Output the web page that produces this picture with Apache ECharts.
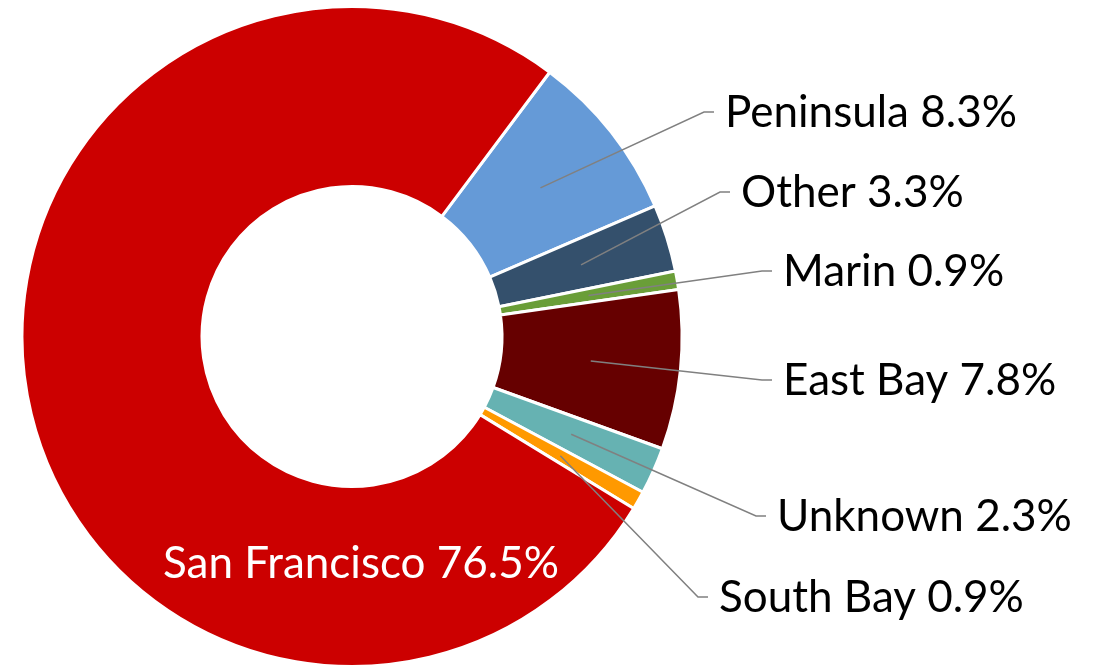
<!DOCTYPE html>
<html><head><meta charset="utf-8">
<script src="https://cdn.jsdelivr.net/npm/echarts@6/dist/echarts.min.js"></script>
<style>html,body{margin:0;padding:0;background:#fff}#chart{width:1104px;height:668px}</style>
</head><body><div id="chart"></div>
<script>
const categories = ['Peninsula', 'Other', 'Marin', 'East Bay', 'Unknown', 'South Bay', 'San Francisco'];
const values = [8.3, 3.3, 0.9, 7.8, 2.3, 0.9, 76.5];
const colors = ['#659AD7', '#34506C', '#6A9E38', '#660000', '#66B2B2', '#FF9900', '#CC0000'];
// label anchors (left edge x / centre for SF, middle y)
const labelX = [725, 741, 783, 783, 777, 719, 361];
const labelY = [113, 193, 272, 381, 517, 598, 564];

const CX = 352, CY = 336.5, R0 = 150, R1 = 330, START = 53.2;
const chart = echarts.init(document.getElementById('chart'));
const total = values.reduce((a, b) => a + b, 0);

function midInfo(si, i) {
  try {
    const L = chart.getModel().getSeriesByIndex(si).getData().getItemLayout(i);
    if (L && isFinite(L.startAngle) && isFinite(L.endAngle) && isFinite(L.r)) {
      return { a: (L.startAngle + L.endAngle) / 2, cx: L.cx, cy: L.cy, rm: (L.r + L.r0) / 2 };
    }
  } catch (e) {}
  let cum = 0;
  for (let k = 0; k < i; k++) cum += values[k];
  const deg = START - 360 * (cum + values[i] / 2) / total;
  return { a: -deg * Math.PI / 180, cx: CX, cy: CY, rm: (R0 + R1) / 2 };
}

const sliceData = categories.map((c, i) => ({ name: c, value: values[i], itemStyle: { color: colors[i] } }));
const labelData = categories.map((c, i) => {
  const item = { name: c, value: values[i] };
  if (i === categories.length - 1) {
    item.label = { color: '#ffffff' };
    item.labelLine = { show: false };
  }
  return item;
});

const common = {
  type: 'pie',
  center: [CX, CY],
  radius: [R0, R1],
  startAngle: START,
  clockwise: true,
  avoidLabelOverlap: false,
  silent: true
};

chart.setOption({
  animation: false,
  backgroundColor: '#ffffff',
  series: [
    Object.assign({}, common, {
      z: 2,
      itemStyle: { borderColor: '#ffffff', borderWidth: 3 },
      label: { show: false },
      labelLine: { show: false },
      data: sliceData
    }),
    Object.assign({}, common, {
      z: 5,
      itemStyle: { color: 'rgba(0,0,0,0)', borderWidth: 0 },
      label: {
        show: true,
        position: 'outside',
        color: '#000000',
        fontFamily: 'Lato, "Noto Sans", sans-serif',
        fontSize: 44,
        formatter: (p) => p.name + ' ' + p.value.toFixed(1) + '%'
      },
      labelLine: { show: true, lineStyle: { color: '#808080', width: 1.5 } },
      labelLayout: function (p) {
        const i = p.dataIndex;
        if (i === categories.length - 1) {
          return { x: labelX[i], y: labelY[i], align: 'center', verticalAlign: 'middle' };
        }
        const m = midInfo(p.seriesIndex, i);
        const sx = m.cx + m.rm * Math.cos(m.a), sy = m.cy + m.rm * Math.sin(m.a);
        return {
          x: labelX[i], y: labelY[i], align: 'left', verticalAlign: 'middle',
          labelLinePoints: [[sx, sy], [labelX[i] - 21, labelY[i] - 1], [labelX[i] - 11, labelY[i] - 1]]
        };
      },
      data: labelData
    })
  ]
});
</script></body></html>
